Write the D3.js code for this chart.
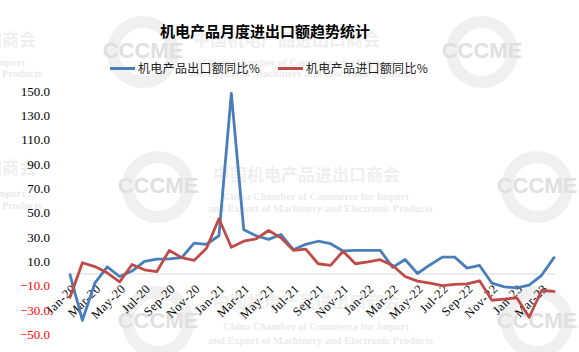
<!DOCTYPE html>
<html><head><meta charset="utf-8">
<script src="https://cdn.jsdelivr.net/npm/d3@7"></script>
<style>body{margin:0;background:#fff}svg{display:block}</style>
</head><body><svg id="c" width="579" height="352"></svg>
<script>
const title = "机电产品月度进出口额趋势统计";
const seriesNames = ["机电产品出口额同比%", "机电产品进口额同比%"];
const categories = ["Jan-20","Feb-20","Mar-20","Apr-20","May-20","Jun-20","Jul-20","Aug-20","Sep-20","Oct-20","Nov-20","Dec-20",
  "Jan-21","Feb-21","Mar-21","Apr-21","May-21","Jun-21","Jul-21","Aug-21","Sep-21","Oct-21","Nov-21","Dec-21",
  "Jan-22","Feb-22","Mar-22","Apr-22","May-22","Jun-22","Jul-22","Aug-22","Sep-22","Oct-22","Nov-22","Dec-22",
  "Jan-23","Feb-23","Mar-23","Apr-23"];
const exportYoY = [-1,-38.5,-8,5.5,-2.5,2,10,11.8,12,13,25,24,
  31,148,36,31,28,32,19.5,24,26.5,24.5,18.5,19,
  19,19,5,11.5,0,7,13.4,13.4,4.4,6.6,-8,-11,
  -11.8,-9.5,-1.5,13];
const importYoY = [-19.5,8.8,5.7,0.5,-7,7.4,3,1.6,19,13,10.7,20.8,
  45,21.6,26.5,28.5,35.3,29.3,19,20,8,6.6,18.3,8,
  9.5,11.3,6.6,-2.5,-6.3,-8,-10,-9,-8.5,-6,-22,-21,
  -20,-36,-14,-14.8];
const yTicks = [150,130,110,90,70,50,30,10,-10,-30,-50];
const colors = ["#4A7EBB", "#BE4B48"];

const svg = d3.select("#c");

// watermark (background)
const wm = svg.append("g").attr("class","watermark");
const logos = [[143,50],[482,50],[158,185],[537,185],[158,320],[537,320]];
logos.forEach(([cx,cy]) => {
  wm.append("circle").attr("cx",cx).attr("cy",cy+2).attr("r",30)
    .attr("fill","none").attr("stroke","#f0f0f0").attr("stroke-width",12);
  wm.append("text").attr("x",cx).attr("y",cy+8).attr("text-anchor","middle")
    .attr("font-family","Liberation Sans, Arial").attr("font-weight","bold")
    .attr("font-size",22).attr("fill","#e0e0e0").text("CCCME");
});
const wmRows = [[193,40,62,73],[213,175,196,208],[213,302,326,340]];
wmRows.forEach(([x,y1,y2,y3]) => {
  wm.append("text").attr("x",x).attr("y",y1+6).attr("font-family","Noto Sans CJK SC")
    .attr("font-weight","bold").attr("font-size",17).attr("fill","#efefef").text("中国机电产品进出口商会");
  wm.append("text").attr("x",x+10).attr("y",y2+4).attr("font-family","Liberation Serif")
    .attr("font-weight","bold").attr("font-size",10.5).attr("fill","#ebebeb").text("China Chamber of Commerce for Import");
  wm.append("text").attr("x",x-5).attr("y",y3+4).attr("font-family","Liberation Serif")
    .attr("font-weight","bold").attr("font-size",10.5).attr("fill","#ebebeb").text("and Export of Machinery and Electronic Products");
});
[[40,62,73],[168,193,205]].forEach(([y1,y2,y3]) => {
  wm.append("text").attr("x",36).attr("y",y1+6).attr("text-anchor","end").attr("font-family","Noto Sans CJK SC")
    .attr("font-weight","bold").attr("font-size",17).attr("fill","#efefef").text("国商会");
  wm.append("text").attr("x",25).attr("y",y2+4).attr("text-anchor","end").attr("font-family","Liberation Serif")
    .attr("font-weight","bold").attr("font-size",10.5).attr("fill","#ebebeb").text("Import");
  wm.append("text").attr("x",42).attr("y",y3+4).attr("text-anchor","end").attr("font-family","Liberation Serif")
    .attr("font-weight","bold").attr("font-size",10.5).attr("fill","#ebebeb").text("Electronic Products");
});

// title
svg.append("text").attr("x",265).attr("y",37).attr("text-anchor","middle")
  .attr("font-family","Noto Sans CJK SC").attr("font-weight","bold").attr("font-size",15)
  .attr("fill","#000").text(title);

// legend
const legendX = [110, 278];
seriesNames.forEach((n,i) => {
  const g = svg.append("g").attr("transform",`translate(${legendX[i]},68.5)`);
  g.append("line").attr("x1",0).attr("x2",25).attr("y1",0).attr("y2",0)
    .attr("stroke",colors[i]).attr("stroke-width",3);
  g.append("text").attr("x",28).attr("y",4.5).attr("font-family","Noto Sans CJK SC")
    .attr("font-size",12).attr("fill","#222").attr("letter-spacing","0.3").text(n);
});

// scales
const x = d3.scalePoint().domain(categories).range([70, 554]);
const y = d3.scaleLinear().domain([-50, 150]).range([334.3, 91]);

// y axis
const yAxis = svg.append("g").attr("transform","translate(50,0)")
  .call(d3.axisLeft(y).tickValues(yTicks).tickFormat(d3.format(".1f")).tickSize(0).tickPadding(0));
yAxis.select(".domain").remove();
yAxis.selectAll("text").attr("font-family","Liberation Serif").attr("font-size",13)
  .attr("fill", d => d < 0 ? "#FF0000" : "#000");

// x axis at zero
const xAxis = svg.append("g").attr("transform",`translate(0,${y(0)})`)
  .call(d3.axisBottom(x).tickValues(categories.filter((d,i)=>i%2===0)).tickSize(0).tickPadding(0));
xAxis.select(".domain").attr("stroke","#d9d9d9").attr("stroke-width",1);
xAxis.selectAll("text").attr("x",0).attr("y",0).attr("dy","0.35em")
  .attr("transform","translate(3,13) rotate(-45)").style("text-anchor","end")
  .attr("font-family","Liberation Serif").attr("font-size",12.5).attr("letter-spacing","0.5")
  .attr("fill","#000");

// lines
const line = d3.line().x((d,i)=>x(categories[i])).y(d=>y(d));
[exportYoY, importYoY].forEach((s,i) => {
  svg.append("path").datum(s).attr("d",line).attr("fill","none")
    .attr("stroke",colors[i]).attr("stroke-width",2.8)
    .attr("stroke-linejoin","round").attr("stroke-linecap","round");
});
</script></body></html>
